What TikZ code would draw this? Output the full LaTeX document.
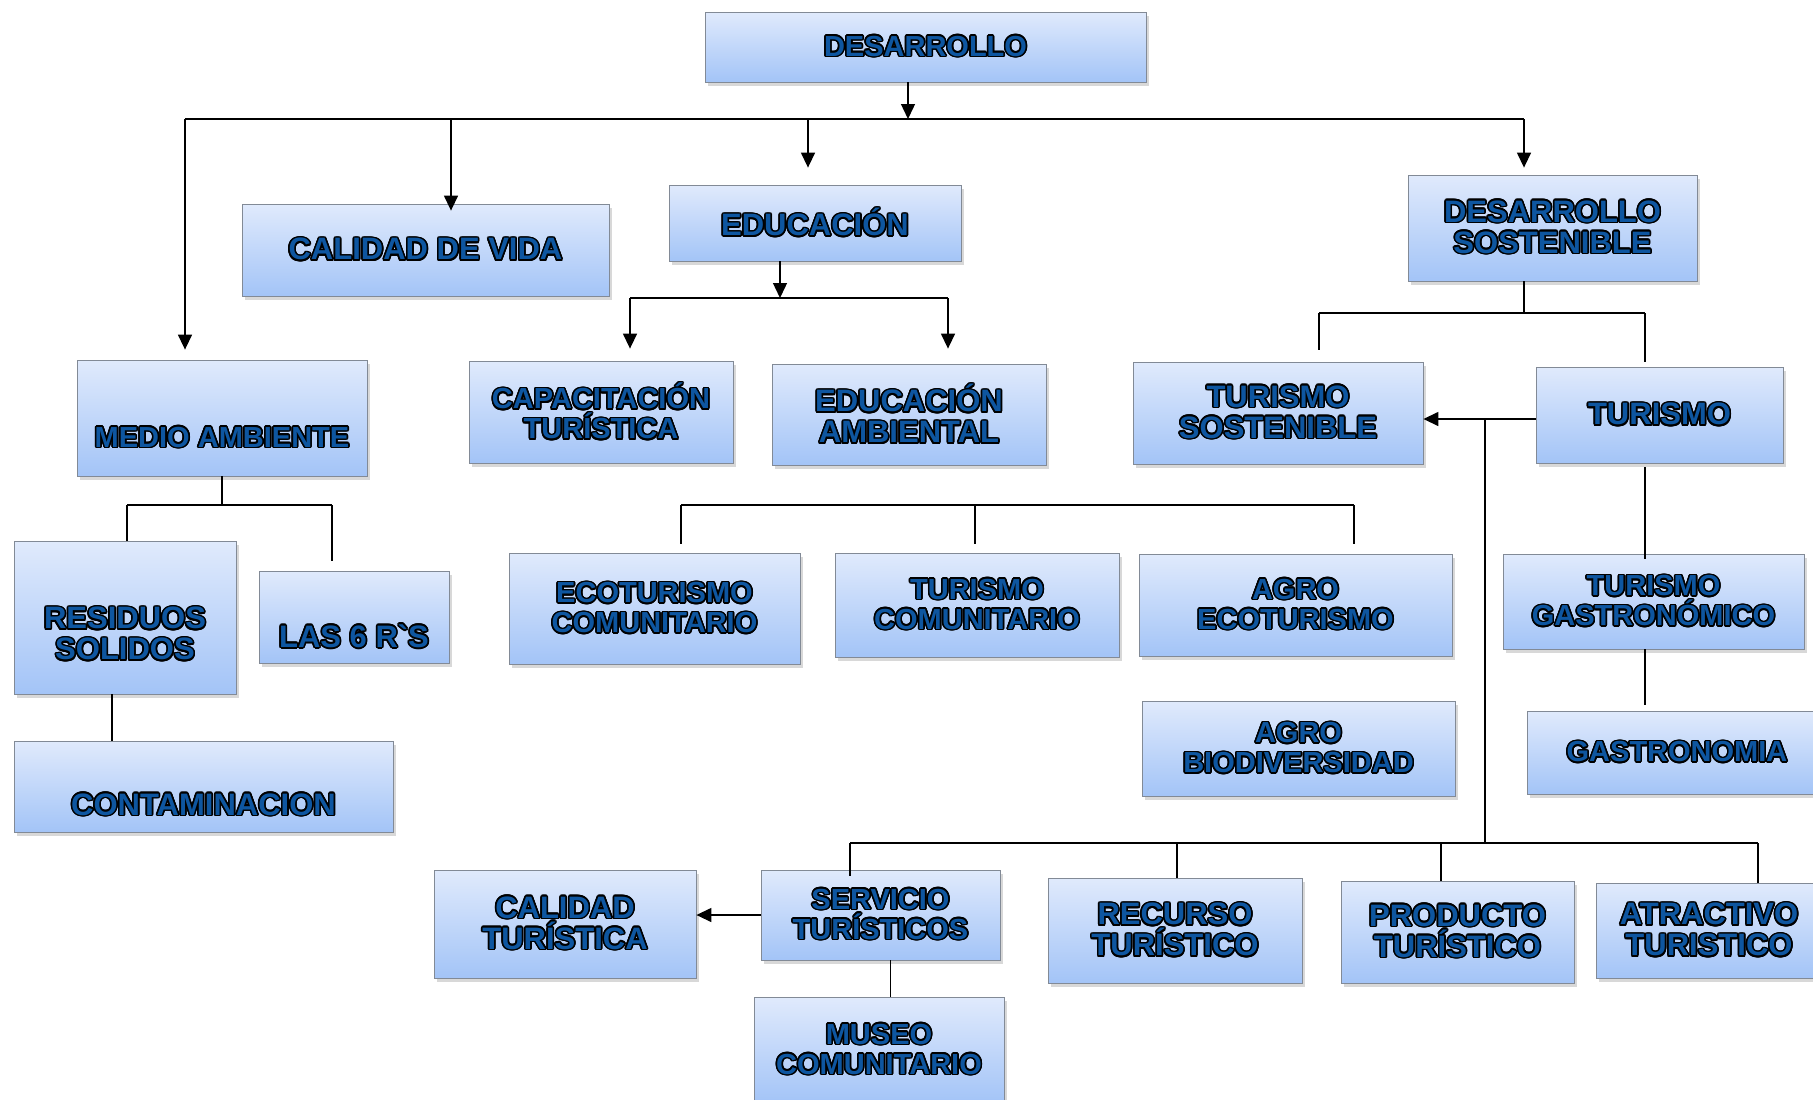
\documentclass[tikz,border=0pt]{standalone}
\usepackage{fontspec}
\setmainfont{Liberation Sans}
\usepackage[copies]{contour}
\contourlength{1.6pt}
\usetikzlibrary{arrows.meta,shadows,positioning}
\definecolor{boxtop}{RGB}{224,234,252}
\definecolor{boxbot}{RGB}{163,196,247}
\definecolor{boxline}{RGB}{130,138,150}
\definecolor{txtblue}{RGB}{14,86,160}
\newcommand{\ct}[1]{\contour{black}{#1}}
\tikzset{%
	box/.style      = {draw=boxline, line width=0.8pt, rectangle, top color=boxtop, bottom color=boxbot,
	                   drop shadow={shadow xshift=3pt, shadow yshift=-4pt, opacity=.3},
	                   align=center, inner sep=0pt, text=txtblue, font=\fontsize{31}{31}\selectfont\bfseries},
	boxsm/.style    = {box, font=\fontsize{29}{30}\selectfont\bfseries}, % smaller text
	boxtxt/.style   = {text=txtblue, align=center, inner sep=0pt, font=\fontsize{31}{31}\selectfont\bfseries},
	boxtxtsm/.style = {boxtxt, font=\fontsize{29}{30}\selectfont\bfseries},
	boxsize/.style 2 args = {minimum width=#1pt, minimum height=#2pt},
}
\tikzset{%
	link/.style  = {line width=1.4pt},
	arrow/.style = {link, -{Triangle[length=15pt, width=14pt]}},
}

\begin{document}
\begin{tikzpicture}[x=1pt, y=-1pt]
	\useasboundingbox (0,0) rectangle (1813,1100);
	\clip (0,0) rectangle (1813,1100);
	\fill[white] (0,0) rectangle (1813,1100);
	% boxes
	\node[boxsm, boxsize={441}{70}] (des) at (925.5,47) {\ct{DESARROLLO}};
	\node[box, boxsize={367}{92}] (cal) at (425.5,250) {\ct{CALIDAD DE VIDA}};
	\node[box, boxsize={292}{76}] (edu) at (815,223) {\ct{EDUCACIÓN}};
	\node[box, boxsize={289}{106}] (ds) at (1552.5,228) {\ct{DESARROLLO}\\\ct{SOSTENIBLE}};
	\node[box, boxsize={290}{116}, label={[boxtxtsm, yshift=-20pt]center:\ct{MEDIO AMBIENTE}}] (med) at (222,418) {};
	\node[boxsm, boxsize={264}{102}] (cap) at (601,412) {\ct{CAPACITACIÓN}\\\ct{TURÍSTICA}};
	\node[box, boxsize={274}{101}] (eda) at (909,414.5) {\ct{EDUCACIÓN}\\\ct{AMBIENTAL}};
	\node[box, boxsize={290}{102}] (ts) at (1278,413) {\ct{TURISMO}\\\ct{SOSTENIBLE}};
	\node[box, boxsize={247}{96}] (tur) at (1659.5,415) {\ct{TURISMO}};
	\node[box, boxsize={222}{153}, label={[boxtxt, yshift=-17pt]center:\ct{RESIDUOS}\\\ct{SOLIDOS}}] (res) at (125,617.5) {};
	\node[box, boxsize={190}{92}, label={[boxtxt, yshift=-20pt]center:\ct{LAS 6 R\textasciigrave S}}] (las) at (354,617) {};
	\node[box, boxsize={379}{91}, label={[boxtxt, yshift=-19pt]center:\ct{CONTAMINACION}}] (con) at (203.5,786.5) {};
	\node[boxsm, boxsize={291}{111}] (eco) at (654.5,608.5) {\ct{ECOTURISMO}\\\ct{COMUNITARIO}};
	\node[boxsm, boxsize={284}{104}] (tco) at (977,605) {\ct{TURISMO}\\\ct{COMUNITARIO}};
	\node[boxsm, boxsize={313}{102}] (aec) at (1295.5,605) {\ct{AGRO}\\\ct{ECOTURISMO}};
	\node[boxsm, boxsize={313}{95}] (abi) at (1298.5,748.5) {\ct{AGRO}\\\ct{BIODIVERSIDAD}};
	\node[boxsm, boxsize={301}{95}] (tga) at (1653.5,601.5) {\ct{TURISMO}\\\ct{GASTRONÓMICO}};
	\node[boxsm, boxsize={300}{83}] (gas) at (1677,752.5) {\ct{GASTRONOMIA}};
	\node[boxsm, boxsize={239}{90}] (ser) at (880.5,915) {\ct{SERVICIO}\\\ct{TURÍSTICOS}};
	\node[box, boxsize={262}{108}] (ctu) at (565,924) {\ct{CALIDAD}\\\ct{TURÍSTICA}};
	\node[boxsm, boxsize={250}{106}] (mus) at (879,1050) {\ct{MUSEO}\\\ct{COMUNITARIO}};
	\node[box, boxsize={254}{105}] (rec) at (1175,930.5) {\ct{RECURSO}\\\ct{TURÍSTICO}};
	\node[box, boxsize={233}{102}] (pro) at (1457.5,932) {\ct{PRODUCTO}\\\ct{TURÍSTICO}};
	\node[box, boxsize={226}{95}] (atr) at (1709,930.5) {\ct{ATRACTIVO}\\\ct{TURISTICO}};
	% junctions
	\coordinate (bus) at (908,119);  \coordinate (busL) at (185,119);  \coordinate (busR) at (1524,119);
	\coordinate (bcal) at (451,119); \coordinate (bedu) at (808,119);
	\coordinate (eb) at (780,298);   \coordinate (ebL) at (630,298);   \coordinate (ebR) at (948,298);
	\coordinate (db) at (1524,313);  \coordinate (dbL) at (1319,313);  \coordinate (dbR) at (1645,313);
	\coordinate (mb) at (222,505);   \coordinate (mbL) at (127,505);   \coordinate (mbR) at (332,505);
	\coordinate (cb) at (112,0);
	\coordinate (fL) at (681,505);   \coordinate (fM) at (975,505);    \coordinate (fR) at (1354,505);
	\coordinate (tk) at (1485,419);  \coordinate (bb) at (1485,843);
	\coordinate (bbL) at (850,843);  \coordinate (bbR) at (1758,843);
	\coordinate (brec) at (1177,843); \coordinate (bpro) at (1441,843);
	% desarrollo
	\draw[arrow] (des.south -| bus) -- (bus);
	\draw[link] (busL) -- (busR);
	\draw[arrow, shorten >=10pt] (busL) -- (busL |- med.north);
	\draw[arrow, shorten >=-7pt] (bcal) -- (bcal |- cal.north);
	\draw[arrow, shorten >=17pt] (bedu) -- (bedu |- edu.north);
	\draw[arrow, shorten >=7pt] (busR) -- (busR |- ds.north);
	% educacion
	\draw[arrow] (edu.south -| eb) -- (eb);
	\draw[link] (ebL) -- (ebR);
	\draw[arrow, shorten >=12pt] (ebL) -- (ebL |- cap.north);
	\draw[arrow, shorten >=15pt] (ebR) -- (ebR |- eda.north);
	% desarrollo sostenible
	\draw[link] (ds.south -| db) -- (db);
	\draw[link] (dbL) -- (dbR);
	\draw[link, shorten >=12pt] (dbL) -- (dbL |- ts.north);
	\draw[link, shorten >=5pt] (dbR) -- (dbR |- tur.north);
	% turismo
	\draw[arrow] (tur.west |- tk) -- (ts.east |- tk);
	\draw[link] (tk) -- (bb);
	\draw[link, shorten <=4pt, shorten >=-5pt] (tur.south -| dbR) -- (tga.north -| dbR);
	\draw[link, shorten >=6pt] (tga.south -| dbR) -- (gas.north -| dbR);
	% medio ambiente
	\draw[link] (med.south) -- (mb);
	\draw[link] (mbL) -- (mbR);
	\draw[link] (mbL) -- (mbL |- res.north);
	\draw[link, shorten >=10pt] (mbR) -- (mbR |- las.north);
	\draw[link] (res.south -| cb) -- (con.north -| cb);
	% ecoturismo
	\draw[link] (fL) -- (fR);
	\draw[link, shorten >=9pt] (fL) -- (fL |- eco.north);
	\draw[link, shorten >=9pt] (fM) -- (fM |- tco.north);
	\draw[link, shorten >=10pt] (fR) -- (fR |- aec.north);
	% servicios
	\draw[link] (bbL) -- (bbR);
	\draw[link, shorten >=-6pt] (bbL) -- (bbL |- ser.north);
	\draw[link] (brec) -- (brec |- rec.north);
	\draw[link] (bpro) -- (bpro |- pro.north);
	\draw[link] (bbR) -- (bbR |- atr.north);
	\draw[arrow] (ser.west) -- (ser.west -| ctu.east);
	\draw[link] ([xshift=10pt]ser.south) -- ([xshift=10pt]ser.south |- mus.north);
\end{tikzpicture}
\end{document}
